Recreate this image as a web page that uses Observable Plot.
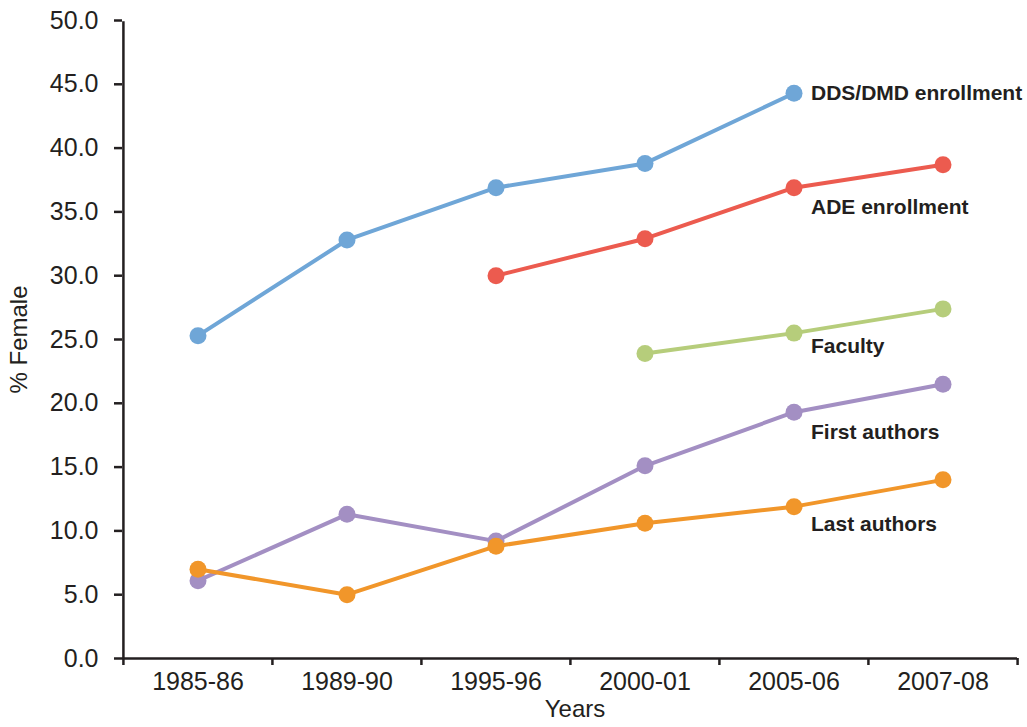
<!DOCTYPE html>
<html>
<head>
<meta charset="utf-8">
<script src="https://cdn.jsdelivr.net/npm/d3@7"></script>
<script src="https://cdn.jsdelivr.net/npm/@observablehq/plot@0.6"></script>
<style>
  html, body { margin: 0; padding: 0; background: #fff; }
  #chart svg { display: block; }
</style>
</head>
<body>
<div id="chart"></div>
<script>
// ---- Data ----
const years = ["1985-86", "1989-90", "1995-96", "2000-01", "2005-06", "2007-08"];
const seriesNames = ["DDS/DMD enrollment", "ADE enrollment", "Faculty", "First authors", "Last authors"];
const ddsDmd = [25.3, 32.8, 36.9, 38.8, 44.3, null];
const adeEnroll = [null, null, 30.0, 32.9, 36.9, 38.7];
const faculty = [null, null, null, 23.9, 25.5, 27.4];
const firstAuthors = [6.1, 11.3, 9.2, 15.1, 19.3, 21.5];
const lastAuthors = [7.0, 5.0, 8.8, 10.6, 11.9, 14.0];
const yTicks = [0, 5, 10, 15, 20, 25, 30, 35, 40, 45, 50];
const labelYear = "2005-06";

// ---- Styling ----
const colors = ["#6fa6d7", "#ec5b4f", "#b6cd7b", "#a38fc3", "#f1962a"];
const labelDy = [0, 20, 13, 20, 18];
const ink = "#231f20";

const valuesBySeries = [ddsDmd, adeEnroll, faculty, firstAuthors, lastAuthors];
const rows = [];
seriesNames.forEach((s, si) => {
  years.forEach((y, i) => {
    const v = valuesBySeries[si][i];
    if (v != null) rows.push({series: s, year: y, value: v});
  });
});

const width = 1027, height = 727;
const marginLeft = 122, marginRight = 10, marginTop = 20, marginBottom = 69;
const bw = (width - marginLeft - marginRight) / years.length;

const labelMarks = seriesNames.map((s, si) =>
  Plot.text(rows.filter(d => d.series === s && d.year === labelYear), {
    x: "year", y: "value", text: "series",
    dx: 17, dy: labelDy[si],
    textAnchor: "start", lineAnchor: "middle",
    fontWeight: "bold", fontSize: 21, fill: ink
  })
);

const plot = Plot.plot({
  width, height, marginLeft, marginRight, marginTop, marginBottom,
  style: {fontFamily: "'Liberation Sans', Arial, sans-serif", color: ink, background: "#fff"},
  x: {type: "band", domain: years, padding: 0, label: null},
  y: {domain: [0, 50], label: null},
  color: {domain: seriesNames, range: colors},
  marks: [
    // axis lines
    Plot.ruleY([0], {stroke: ink, strokeWidth: 2.5}),
    Plot.ruleX([years[0]], {y1: 0, y2: 50, dx: -bw / 2, stroke: ink, strokeWidth: 2.5, insetBottom: -1.2}),
    // x boundary ticks
    Plot.ruleX(years, {y1: 0, y2: 0, dx: -bw / 2, stroke: ink, strokeWidth: 2.5, insetBottom: -7}),
    Plot.ruleX([years[years.length - 1]], {y1: 0, y2: 0, dx: bw / 2, stroke: ink, strokeWidth: 2.5, insetBottom: -7}),
    Plot.axisX({tickSize: 0, tickPadding: 14, fontSize: 25, fill: ink}),
    Plot.axisY({ticks: yTicks, tickFormat: d3.format(".1f"), tickSize: 8, tickPadding: 16, fontSize: 25, fill: ink, stroke: ink, strokeWidth: 2.5, label: null}),
    // series
    Plot.line(rows, {x: "year", y: "value", z: "series", stroke: "series", strokeWidth: 4}),
    Plot.dot(rows, {x: "year", y: "value", fill: "series", r: 8.5}),
    // labels
    ...labelMarks,
    // axis titles
    Plot.text(["% Female"], {frameAnchor: "left", dx: -103, rotate: -90, textAnchor: "middle", fontSize: 24, fill: ink}),
    Plot.text(["Years"], {frameAnchor: "bottom", dy: 58, dx: 5, fontSize: 24, fill: ink})
  ]
});

document.getElementById("chart").appendChild(plot);
</script>
</body>
</html>
